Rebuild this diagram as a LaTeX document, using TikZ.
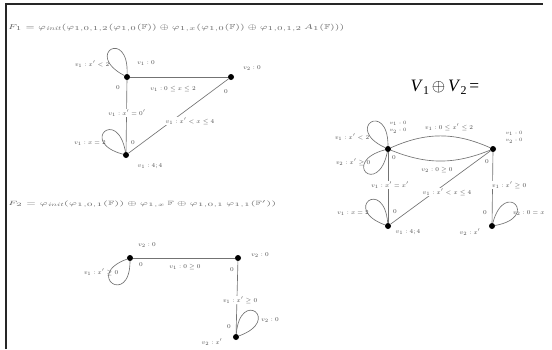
\documentclass[tikz,border=0pt]{standalone}
\usepackage{fontspec}
\usepackage{amssymb}
\newfontfamily\timesfont{Liberation Serif}
\begin{document}
\begin{tikzpicture}[x=1bp,y=-1bp,
  dot/.style={circle,fill=black,inner sep=0pt,minimum size=6bp},
  lbl/.style={font=\fontsize{6.3}{7}\selectfont,text=black!70,inner sep=0.6bp},
  stk/.style={font=\fontsize{5.5}{7.5}\selectfont,text=black!70,inner sep=0.3bp,align=left},
  onl/.style={lbl,fill=white},
  ttl/.style={font=\fontsize{6}{6}\selectfont,text=black!60,inner sep=0pt,anchor=west},
  edg/.style={draw=black!55,line width=0.65bp},
  lp/.style={edg,min distance=46bp}]
\useasboundingbox (0,0) rectangle (552,349);
\draw[black!85,line width=1.2bp] (6,349) -- (6,4) -- (543,4);

% titles
\node[ttl] (t1) at (8,28) {\resizebox{336bp}{5.4bp}{$F_1 = \varphi_{\mathit{init}}(\varphi_{1,0,1,2}(\varphi_{1,0}(\mathbb{F}))\oplus\varphi_{1,x}(\varphi_{1,0}(\mathbb{F}))\oplus\varphi_{1,0,1,2}\,A_1(\mathbb{F})))$}};
\node[ttl] (t2) at (8,204) {\resizebox{268bp}{5.4bp}{$F_2 = \varphi_{\mathit{init}}(\varphi_{1,0,1}(\mathbb{F}))\oplus\varphi_{1,x}\,\mathbb{F}\oplus\varphi_{1,0,1}\,\varphi_{1,1}(\mathbb{F}'))$}};

% ---------- graph 1 ----------
\node[dot] (A) at (127,77) {};
\node[dot] (B) at (231,77) {};
\node[dot] (C) at (126,155) {};
\draw[edg] (A) -- (B);
\draw[edg] (A) -- (C);
\draw[edg] (C) -- (B);
\draw[lp] (A) to[out=88,in=152] (A);
\draw[lp] (C) to[out=100,in=165] (C);
\node[lbl] (a1) at (92,64) {$v_1 : x' < 2$};
\node[lbl] (a2) at (146,63) {$v_1 : 0$};
\node[lbl] (a3) at (118,88) {$0$};
\node[lbl] (a4) at (173,89) {$v_1 : 0 \le x \le 2$};
\node[lbl] (a5) at (226,92) {$0$};
\node[lbl] (a6) at (252,68) {$v_2 : 0$};
\node[onl] (a7) at (127,113) {$v_1 : x' = 0'$};
\node[onl] (a8) at (190,121) {$v_1 : x' < x \le 4$};
\node[lbl] (a9) at (90,143) {$v_1 : x = 2$};
\node[lbl] (a10) at (133,143) {$0$};
\node[lbl] (a11) at (150,166) {$v_1 : 4;4$};

% ---------- graph 2 ----------
\node[dot] (D) at (130,258) {};
\node[dot] (E) at (238,258) {};
\node[dot] (F) at (236,337) {};
\draw[edg] (D) -- (E);
\draw[edg] (E) -- (F);
\draw[lp] (D) to[out=200,in=270] (D);
\draw[lp] (F) to[out=85,in=20] (F);
\node[lbl] (b1) at (147,245) {$v_2 : 0$};
\node[lbl] (b2) at (101,272) {$v_1 : x' \ge 0$};
\node[lbl] (b3) at (141,265) {$0$};
\node[lbl] (b4) at (185,267) {$v_1 : 0 \ge 0$};
\node[lbl] (b5) at (260,255) {$v_2 : 0$};
\node[lbl] (b6) at (232,270) {$0$};
\node[onl] (b7) at (240,300) {$v_1 : x' \ge 0$};
\node[lbl] (b8) at (270,320) {$v_2 : 0$};
\node[lbl] (b9) at (229,327) {$0$};
\node[lbl] (b10) at (212,342) {$v_2 : x'$};

% ---------- graph 3 ----------
\node[font=\timesfont\fontsize{17.5}{18}\selectfont,inner sep=0pt] (eq) at (445,87) {\textit{V}\raisebox{-0.35ex}{\fontsize{12}{12}\selectfont 1}\,$\oplus$\,\textit{V}\raisebox{-0.35ex}{\fontsize{12}{12}\selectfont 2}\,=};
\node[dot] (G) at (388,149) {};
\node[dot] (H) at (493,149) {};
\node[dot] (I) at (388,226) {};
\node[dot] (J) at (492,226) {};
\draw[edg] (G) to[bend left=24] (H);
\draw[edg] (G) to[bend right=22] (H);
\draw[edg] (G) -- (I);
\draw[edg] (I) -- (H);
\draw[edg] (H) -- (J);
\draw[lp] (G) to[out=90,in=155] (G);
\draw[lp] (G) to[out=195,in=258] (G);
\draw[lp] (I) to[out=95,in=160] (I);
\draw[lp] (J) to[out=75,in=10] (J);
\node[stk] (c1) at (398,127) {$v_1 : 0$\\$v_2 : 0$};
\node[lbl] (c2) at (449,127) {$v_1 : 0 \le x' \le 2$};
\node[lbl] (c3) at (352,137) {$v_1 : x' < 2$};
\node[stk] (c4) at (514,137) {$v_1 : 0$\\$v_2 : 0$};
\node[lbl] (c5) at (353,162) {$v_2 : x' \ge 0$};
\node[lbl] (c6) at (394,158) {$0$};
\node[lbl] (c7) at (437,170) {$v_2 : 0 \ge 0$};
\node[lbl] (c8) at (487,162) {$0$};
\node[onl] (c9) at (390,185) {$v_1 : x' = x'$};
\node[onl] (c10) at (447,192) {$v_1 : x' < x \le 4$};
\node[onl] (c11) at (509,185) {$v_1 : x' \ge 0$};
\node[lbl] (c12) at (353,213) {$v_1 : x = 2$};
\node[lbl] (c13) at (395,212) {$0$};
\node[lbl] (c14) at (408,232) {$v_1 : 4;4$};
\node[lbl] (c15) at (470,232) {$v_2 : x'$};
\node[lbl] (c16) at (485,213) {$0$};
\node[lbl,anchor=west] (c17) at (512,213) {$v_2 : 0 = x$};
\end{tikzpicture}
\end{document}
